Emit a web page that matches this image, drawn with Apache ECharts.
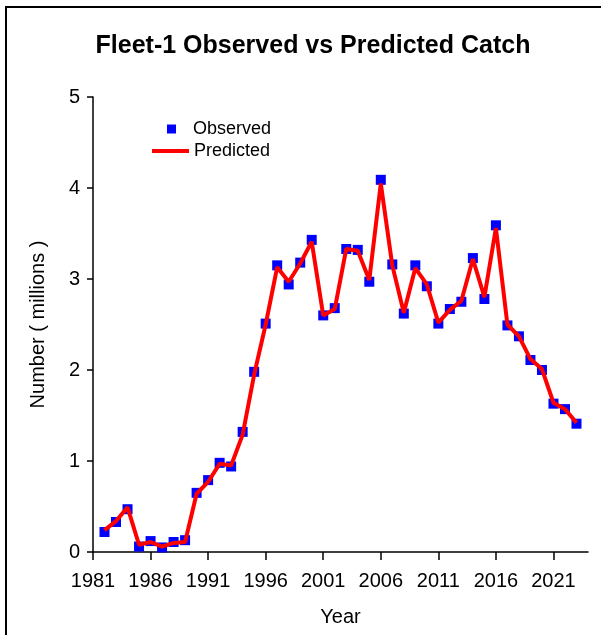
<!DOCTYPE html>
<html>
<head>
<meta charset="utf-8">
<script src="https://cdn.jsdelivr.net/npm/echarts@6/dist/echarts.min.js"></script>
<style>
html,body{margin:0;padding:0;background:#fff;}
#chart{width:601px;height:635px;}
</style>
</head>
<body>
<div id="chart"></div>
<script>
var years = [1982,1983,1984,1985,1986,1987,1988,1989,1990,1991,1992,1993,1994,1995,1996,1997,1998,1999,2000,2001,2002,2003,2004,2005,2006,2007,2008,2009,2010,2011,2012,2013,2014,2015,2016,2017,2018,2019,2020,2021,2022,2023];
var observed = [0.22,0.33,0.47,0.06,0.12,0.05,0.11,0.13,0.65,0.79,0.98,0.94,1.32,1.98,2.51,3.15,2.94,3.18,3.43,2.60,2.68,3.33,3.32,2.97,4.09,3.16,2.62,3.15,2.92,2.51,2.67,2.75,3.23,2.78,3.59,2.49,2.37,2.11,2.00,1.63,1.57,1.41];
var predicted = [0.24,0.34,0.49,0.08,0.11,0.06,0.10,0.11,0.64,0.77,0.97,0.95,1.29,1.95,2.50,3.13,2.97,3.17,3.41,2.60,2.67,3.33,3.31,2.99,4.05,3.15,2.63,3.12,2.94,2.52,2.66,2.76,3.22,2.80,3.56,2.50,2.37,2.12,2.01,1.64,1.57,1.42];
var xTicks = [1981,1986,1991,1996,2001,2006,2011,2016,2021];

var FONT = 'Liberation Sans, Arial, sans-serif';
var chart = echarts.init(document.getElementById('chart'), null, {renderer:'canvas'});
var obsData = years.map(function(y,i){return [y, observed[i]];});
var predData = years.map(function(y,i){return [y, predicted[i]];});

chart.setOption({
  animation:false,
  backgroundColor:'#fff',
  title:{
    text:'Fleet-1 Observed vs Predicted Catch',
    left:308, top:29, textAlign:'center',
    textStyle:{fontFamily:FONT,fontSize:25,fontWeight:'bold',color:'#000'}
  },
  grid:{left:93,right:13,top:97,bottom:83,containLabel:false},
  legend:[
    {data:['Observed'],orient:'vertical',left:162,top:115,icon:'rect',itemWidth:9,itemHeight:9,
     textStyle:{fontFamily:FONT,fontSize:18,color:'#000',padding:[0,0,0,12]}},
    {data:['Predicted'],orient:'vertical',left:147,top:137,icon:'rect',itemWidth:37,itemHeight:4,
     textStyle:{fontFamily:FONT,fontSize:18,color:'#000',padding:[0,0,0,0]}}
  ],
  xAxis:{
    type:'value',min:1981,max:2024,
    name:'Year',nameLocation:'middle',nameGap:55,
    nameTextStyle:{fontFamily:FONT,fontSize:20,color:'#000'},
    axisLine:{show:true,lineStyle:{color:'#000',width:1.5}},
    axisTick:{show:true,customValues:xTicks,length:8,lineStyle:{color:'#000',width:1.5}},
    axisLabel:{customValues:xTicks,margin:19,fontFamily:FONT,fontSize:20,color:'#000',formatter:function(v){return String(v);}},
    splitLine:{show:false}
  },
  yAxis:{
    type:'value',min:0,max:5,interval:1,
    name:'Number ( millions )',nameLocation:'middle',nameGap:45,
    nameTextStyle:{fontFamily:FONT,fontSize:20,color:'#000'},
    axisLine:{show:true,lineStyle:{color:'#000',width:1.5}},
    axisTick:{show:true,length:6,lineStyle:{color:'#000',width:1.5}},
    axisLabel:{margin:13,fontFamily:FONT,fontSize:20,color:'#000'},
    splitLine:{show:false}
  },
  series:[
    {name:'Observed',type:'scatter',data:obsData,symbol:'rect',symbolSize:10,
     itemStyle:{color:'#0000ff',opacity:1},z:2},
    {name:'Predicted',type:'line',data:predData,symbol:'none',
     lineStyle:{color:'#ff0000',width:4},itemStyle:{color:'#ff0000'},z:3}
  ],
  graphic:[
    {type:'line',shape:{x1:5,y1:7,x2:601,y2:7},style:{stroke:'#000',lineWidth:2},z:100},
    {type:'line',shape:{x1:6,y1:7,x2:6,y2:635},style:{stroke:'#000',lineWidth:2},z:100}
  ]
});
</script>
</body>
</html>
